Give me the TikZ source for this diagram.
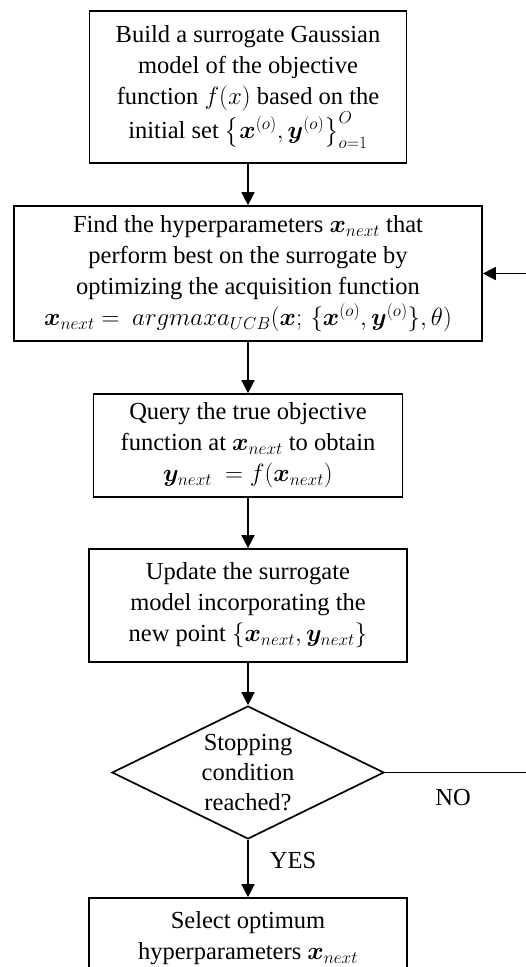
\documentclass[tikz,border=0pt]{standalone}
\usepackage{amsmath}
\usepackage{bm}
\usepackage{fontspec}
\setmainfont{Liberation Serif}
\usetikzlibrary{shapes.geometric,arrows.meta}
\begin{document}
\begin{tikzpicture}[x=1pt,y=-1pt,
  box/.style={draw,line width=1.7pt,inner sep=0pt,align=center,font=\fontsize{24.5}{31}\selectfont},
  dtext/.style={inner sep=0pt,align=center,font=\fontsize{24.5}{30}\selectfont},
  lbl/.style={inner sep=0pt,font=\fontsize{24.5}{30}\selectfont},
  arr/.style={line width=1.7pt,-{Triangle[length=13pt,width=13pt]}}]
\useasboundingbox (0,0) rectangle (526,967);
\clip (0,0) rectangle (526,967);
\node[box,minimum width=317pt,minimum height=152pt] (b1) at (248,87)
  {Build a surrogate Gaussian\\model of the objective\\function $f(x)$ based on the\\initial set $\big\{\bm{x}^{(o)},\bm{y}^{(o)}\big\}_{o=1}^{O}$};
\node[box,minimum width=468pt,minimum height=135pt] (b2) at (248,273.5)
  {Find the hyperparameters $\bm{x}_{next}$ that\\perform best on the surrogate by\\optimizing the acquisition function\\{\fontsize{23}{31}\selectfont$\bm{x}_{next} =\ argmaxa_{UCB}(\bm{x};\,\{\bm{x}^{(o)},\bm{y}^{(o)}\},\theta)$}};
\node[box,minimum width=309pt,minimum height=103pt] (b3) at (248,445.5)
  {Query the true objective\\function at $\bm{x}_{next}$ to obtain\\$\bm{y}_{next}\ = f(\bm{x}_{next})$};
\node[box,minimum width=318pt,minimum height=113pt] (b4) at (248,605.5)
  {Update the surrogate\\model incorporating the\\new point $\{\bm{x}_{next},\bm{y}_{next}\}$};
\node[draw,line width=1.7pt,diamond,inner sep=0pt,minimum width=272pt,minimum height=133pt] (dia) at (248,772.5) {};
\node[dtext] (dt) at (dia.center) {Stopping\\condition\\reached?};
\node[box,minimum width=318pt,minimum height=80pt] (b5) at (248,938)
  {Select optimum\\hyperparameters $\bm{x}_{next}$};
\coordinate (rx) at (529,0);
\draw[arr] (b1) -- (b2);
\draw[arr] (b2) -- (b3);
\draw[arr] (b3) -- (b4);
\draw[arr] (b4) -- (dia);
\draw[arr] (dia) -- (b5);
\draw[arr] (dia.east) -- (dia.east -| rx) |- (b2.east);
\node[lbl] (no) at (453,797) {NO};
\node[lbl] (yes) at (293,860) {YES};
\end{tikzpicture}
\end{document}
